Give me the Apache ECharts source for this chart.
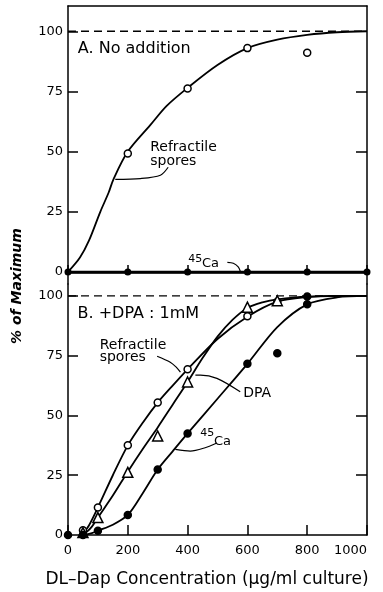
<!DOCTYPE html>
<html>
<head>
<meta charset="utf-8">
<script src="https://cdn.jsdelivr.net/npm/echarts@6/dist/echarts.min.js"></script>
<style>
  html, body { margin: 0; padding: 0; background: #fff; }
  #main { width: 383px; height: 592px; }
</style>
</head>
<body>
<div id="main"></div>
<script>
// ---- data ----
// panel A: no addition
var sporesA = [[200, 49.2], [400, 76.2], [600, 93], [800, 91.1]];
var sporesACurve = [[0, 0], [40, 6], [70, 13], [108, 25], [136, 33], [152, 38.5], [200, 50], [275, 61], [330, 69],
    [400, 76.5], [500, 86], [600, 93], [700, 96.5], [800, 98.5], [900, 99.6], [1000, 100]];
var caA = [[0, 0], [200, 0], [400, 0], [600, 0], [800, 0], [1000, 0]];

// panel B: +DPA 1mM
var sporesB = [[50, 2], [100, 11.5], [200, 37.5], [300, 55.4], [400, 69.3], [600, 91.5], [700, 97.6]];
var dpaB = [[50, 1], [100, 7.3], [200, 26.2], [300, 41.4], [400, 64], [600, 95.3], [700, 98]];
var caB = [[0, 0], [50, 0], [100, 1.8], [200, 8.4], [300, 27.4], [400, 42.5], [600, 71.6], [700, 76], [800, 96.5], [800, 99.8]];

var sporesBCurve = [[40, 0], [55, 1.5], [70, 4], [100, 11.5], [150, 25], [200, 37.5], [250, 47], [300, 55.4], [350, 62.5],
    [400, 69.3], [500, 82], [600, 91.3], [700, 97.6], [800, 99.5], [900, 100], [1000, 100]];
var dpaBCurve = [[45, 0], [60, 1], [80, 3.5], [100, 7.3], [150, 16.5], [200, 26.5], [250, 36], [300, 45], [350, 54.5],
    [400, 64], [450, 74], [500, 83], [550, 90], [600, 95], [650, 97.3], [700, 98.6], [800, 99.7], [1000, 100]];
var caBCurve = [[55, 0], [80, 0.8], [100, 1.8], [150, 4.3], [200, 8.4], [250, 17.5], [300, 27.4], [350, 35], [400, 42.5],
    [500, 57], [600, 71.6], [700, 87], [800, 96.5], [900, 99.4], [1000, 100]];

var maxLine = [[0, 100], [1000, 100]];
var yLabels = [0, 25, 50, 75, 100];

// leader lines for the labels (data coords)
var leadSporesA = [[158, 38.5], [242, 38.8], [309, 40.2], [335, 43.5]];
var leadCaA = [[533, 4], [553, 3.6], [570, 2], [577, 0]];
var leadSporesB = [[298, 74.8], [342, 72.3], [362, 70.2], [376, 68.1]];
var leadDpaB = [[576, 59.9], [498, 65.5], [443, 66.9], [426, 66.9]];
var leadCaB = [[359, 35.8], [409, 35.1], [456, 36.4], [498, 38.5]];

var FONT = 'DejaVu Sans';
var AX = {color: '#000', width: 1.5};

var chart = echarts.init(document.getElementById('main'));

function curve(name, data, xi, yi, w) {
    return {
        name: name, type: 'line', data: data, xAxisIndex: xi, yAxisIndex: yi,
        smooth: 0.3, symbol: 'none', silent: true,
        lineStyle: {color: '#000', width: w || 1.8}
    };
}
function dashed(xi, yi) {
    return {
        type: 'line', data: maxLine, xAxisIndex: xi, yAxisIndex: yi, symbol: 'none', silent: true,
        lineStyle: {color: '#000', width: 1.3, type: [8, 5]}
    };
}
function dots(name, data, xi, yi, symbol, filled, size) {
    return {
        name: name, type: 'scatter', data: data, xAxisIndex: xi, yAxisIndex: yi, z: 5,
        symbol: symbol, symbolSize: size,
        itemStyle: {color: filled ? '#000' : '#fff', borderColor: '#000', borderWidth: 1.5, opacity: 1}
    };
}

var option = {
    animation: false,
    backgroundColor: '#fff',
    grid: [
        {left: 68, width: 299, top: 6, height: 278},
        {left: 68, width: 299, top: 284, height: 251}
    ],
    xAxis: [
        {
            gridIndex: 0, type: 'value', min: 0, max: 1000, interval: 200,
            axisLine: {onZero: true, lineStyle: {color: '#000', width: 2.5}},
            axisTick: {inside: true, length: 7, lineStyle: AX},
            axisLabel: {show: false}, splitLine: {show: false}
        },
        {
            gridIndex: 0, type: 'value', position: 'top', min: 0, max: 1000,
            axisLine: {onZero: false, lineStyle: AX},
            axisTick: {show: false}, axisLabel: {show: false}, splitLine: {show: false}
        },
        {
            gridIndex: 1, type: 'value', min: 0, max: 1000, interval: 200,
            axisLine: {lineStyle: AX},
            axisTick: {inside: true, length: 10, lineStyle: AX},
            axisLabel: {
                color: '#000', fontSize: 13, fontFamily: FONT, margin: 9, alignMaxLabel: 'right',
                formatter: function (v) { return String(v); }
            },
            splitLine: {show: false}
        }
    ],
    yAxis: [
        {
            gridIndex: 0, type: 'value', min: -5, max: 110.5,
            axisLine: {onZero: false, lineStyle: AX},
            axisTick: {inside: true, length: 10, customValues: [25, 50, 75, 100], lineStyle: AX},
            axisLabel: {customValues: yLabels, color: '#000', fontSize: 13, fontFamily: FONT, margin: 5},
            splitLine: {show: false}
        },
        {
            gridIndex: 0, type: 'value', position: 'right', min: -5, max: 110.5,
            axisLine: {onZero: false, lineStyle: AX},
            axisTick: {inside: true, length: 11, customValues: [25, 50, 75], lineStyle: AX},
            axisLabel: {show: false}, splitLine: {show: false}
        },
        {
            gridIndex: 1, type: 'value', min: 0, max: 105,
            axisLine: {onZero: false, lineStyle: AX},
            axisTick: {inside: true, length: 10, customValues: [25, 50, 75, 100], lineStyle: AX},
            axisLabel: {customValues: yLabels, color: '#000', fontSize: 13, fontFamily: FONT, margin: 5},
            splitLine: {show: false}
        },
        {
            gridIndex: 1, type: 'value', position: 'right', min: 0, max: 105,
            axisLine: {onZero: false, lineStyle: AX},
            axisTick: {inside: true, length: 11, customValues: [25, 50, 75], lineStyle: AX},
            axisLabel: {show: false}, splitLine: {show: false}
        }
    ],
    series: [
        // panel A
        dashed(0, 0),
        curve('Refractile spores', sporesACurve, 0, 0),
        dots('Refractile spores', sporesA, 0, 0, 'circle', false, 7),
        {
            name: '45Ca', type: 'line', data: caA, xAxisIndex: 0, yAxisIndex: 0, z: 5,
            symbol: 'circle', symbolSize: 7, showAllSymbol: true,
            lineStyle: {color: '#000', width: 2.5}, itemStyle: {color: '#000'}
        },
        curve('', leadSporesA, 0, 0, 1.2),
        curve('', leadCaA, 0, 0, 1.2),
        // panel B
        dashed(2, 2),
        curve('Refractile spores', sporesBCurve, 2, 2),
        curve('DPA', dpaBCurve, 2, 2),
        curve('45Ca', caBCurve, 2, 2),
        dots('Refractile spores', sporesB, 2, 2, 'circle', false, 7),
        dots('DPA', dpaB, 2, 2, 'triangle', false, 10),
        dots('45Ca', caB, 2, 2, 'circle', true, 7),
        curve('', leadSporesB, 2, 2, 1.2),
        curve('', leadDpaB, 2, 2, 1.2),
        curve('', leadCaB, 2, 2, 1.2)
    ]
};
chart.setOption(option);

// text labels placed in data coordinates of each panel
var labelsA = [
    {text: 'A. No addition', at: [33, 92.5], size: 16},
    {text: 'Refractile', at: [275, 51.8], size: 14},
    {text: 'spores', at: [275, 46.1], size: 14},
    {text: '45', at: [402, 5.3], size: 11},
    {text: 'Ca', at: [448, 3.6], size: 13}
];
var labelsB = [
    {text: 'B. +DPA : 1mM', at: [32, 92.4], size: 16},
    {text: 'Refractile', at: [106, 79.4], size: 14},
    {text: 'spores', at: [106, 74.5], size: 14},
    {text: 'DPA', at: [586, 59.2], size: 14},
    {text: '45', at: [442, 42.7], size: 11},
    {text: 'Ca', at: [488, 39.0], size: 13}
];

var graphics = [];
function addLabels(list, seriesIndex) {
    list.forEach(function (l) {
        var p = chart.convertToPixel({seriesIndex: seriesIndex}, l.at);
        graphics.push({
            type: 'text', x: p[0], y: p[1], z: 10,
            style: {text: l.text, font: l.size + 'px ' + FONT, fill: '#000', align: 'left', verticalAlign: 'middle'}
        });
    });
}
addLabels(labelsA, 0);
addLabels(labelsB, 6);

// y axis title spanning both panels
graphics.push({
    type: 'text', x: 17, y: 286, rotation: Math.PI / 2, z: 10,
    style: {text: '% of Maximum', font: 'italic bold 14px ' + FONT, fill: '#000', align: 'center', verticalAlign: 'middle'}
});
// x axis title
graphics.push({
    type: 'text', x: 207, y: 580, z: 10,
    style: {text: 'DL\u2013Dap Concentration (\u03bcg/ml culture)', font: '17px ' + FONT, fill: '#000', align: 'center', verticalAlign: 'middle'}
});

chart.setOption({graphic: graphics});
</script>
</body>
</html>
